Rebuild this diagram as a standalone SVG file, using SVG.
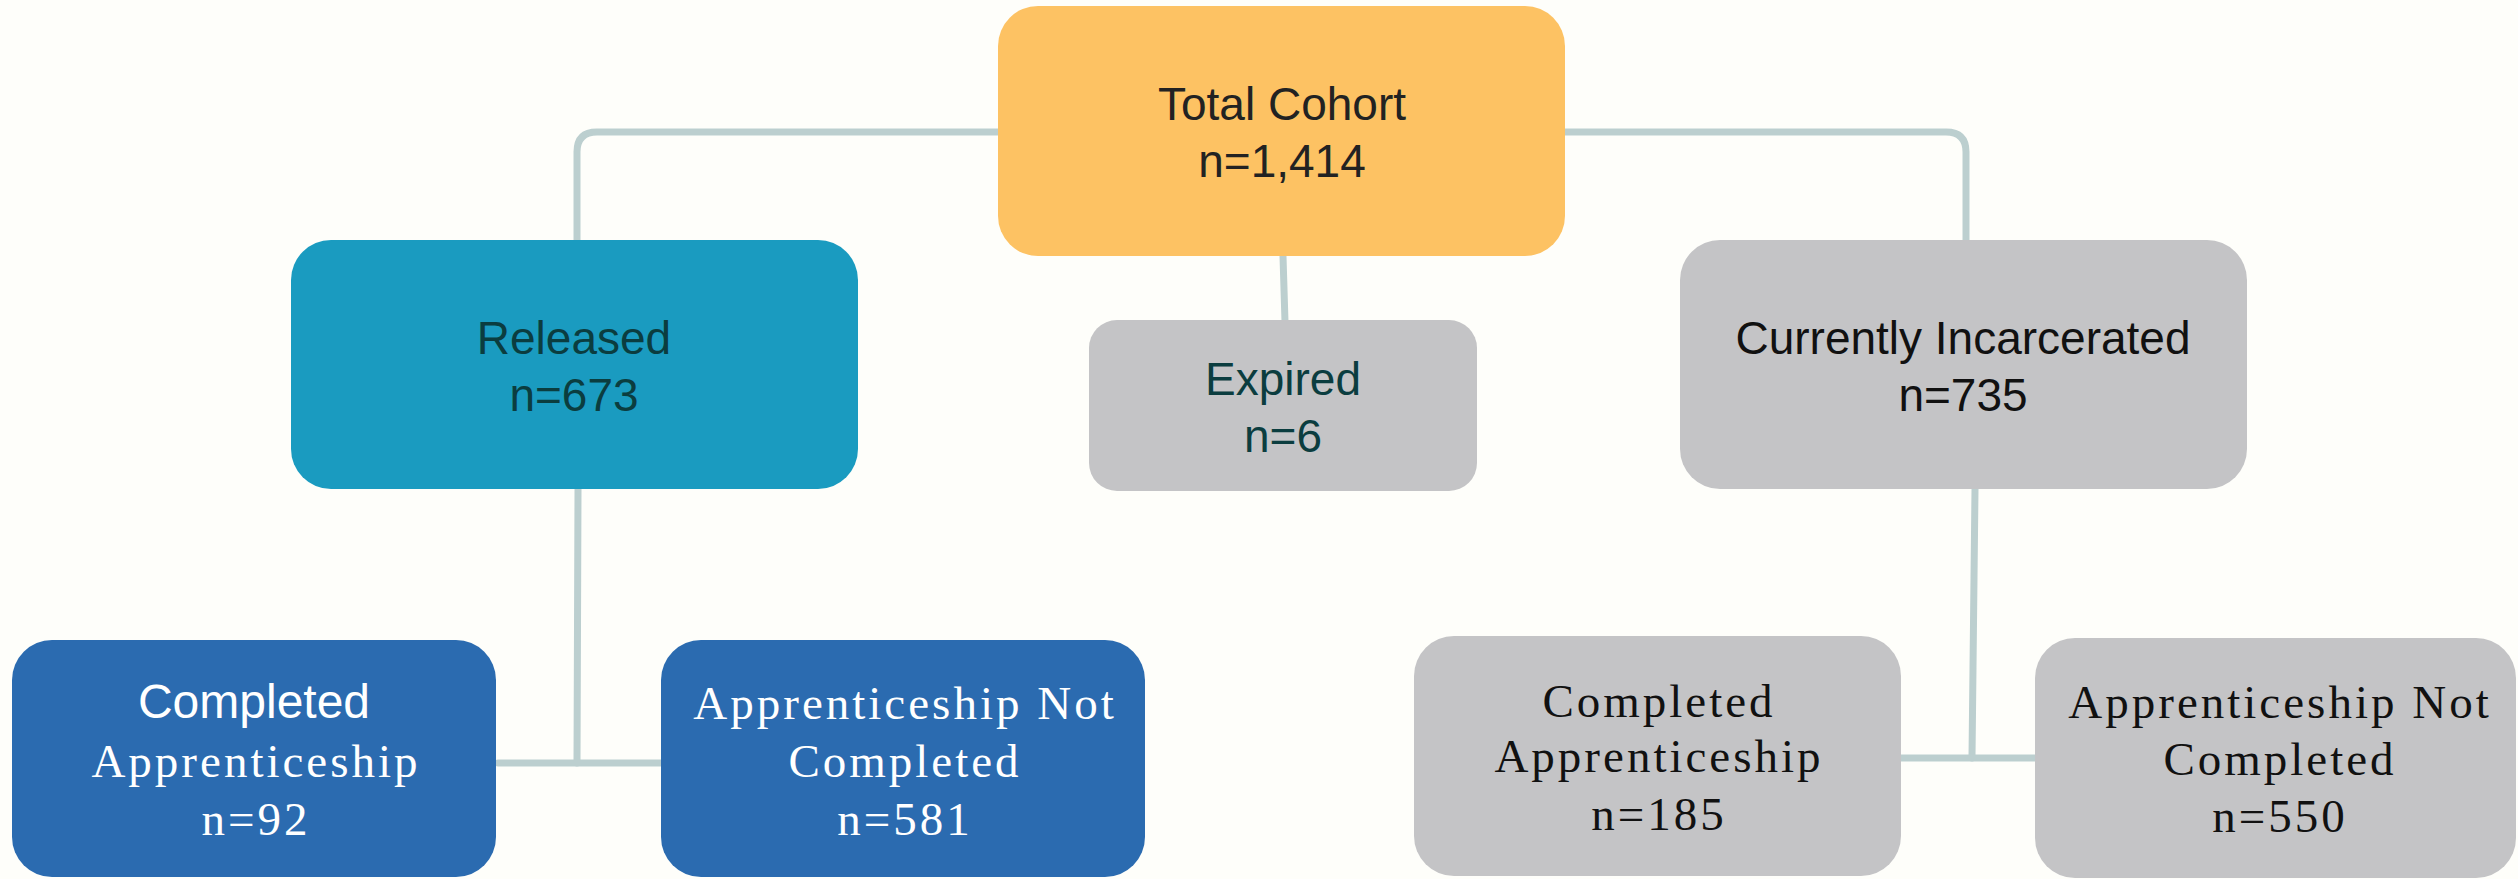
<svg xmlns="http://www.w3.org/2000/svg" width="2518" height="879" viewBox="0 0 2518 879">
  <style>
    .sans { font-family: "Liberation Sans", Arial, sans-serif; font-size: 46px; text-anchor: middle; }
    .serif { font-family: "Liberation Serif", "Times New Roman", serif; font-size: 47px; letter-spacing: 3px; text-anchor: middle; }
    .link { fill: none; stroke: #bccfcf; stroke-width: 7; stroke-linecap: round; stroke-linejoin: round; }
    .orange { fill: #fdc263; }
    .teal { fill: #1a9bc0; }
    .blue { fill: #2b6bb0; }
    .grey { fill: #c4c4c6; }
    .ink-dark { fill: #222222; }
    .ink-teal { fill: #0b3d3f; }
    .ink-black { fill: #111111; }
    .ink-white { fill: #ffffff; }
  </style>

  <rect x="0" y="0" width="2518" height="879" fill="#fefefa"/>

  <!-- connectors -->
  <g id="connectors">
    <path class="link" d="M 1000 132 L 597 132 Q 577 132 577 152 L 577 245"/>
    <path class="link" d="M 1563 132 L 1946 132 Q 1966 132 1966 152 L 1966 245"/>
    <path class="link" d="M 1283 256 L 1285 322"/>
    <path class="link" d="M 578 489 L 577 763"/>
    <path class="link" d="M 498 763 L 664 763"/>
    <path class="link" d="M 1975 489 L 1972 758"/>
    <path class="link" d="M 1899 758 L 2040 758"/>
  </g>

  <g id="total-cohort">
    <rect class="orange" x="998" y="6" width="567" height="250" rx="40" ry="40"/>
    <text class="sans ink-dark" x="1282" y="120">Total Cohort</text>
    <text class="sans ink-dark" x="1282" y="177">n=1,414</text>
  </g>

  <g id="released">
    <rect class="teal" x="291" y="240" width="567" height="249" rx="40" ry="40"/>
    <text class="sans ink-teal" x="574" y="354">Released</text>
    <text class="sans ink-teal" x="574" y="411">n=673</text>
  </g>

  <g id="expired">
    <rect class="grey" x="1089" y="320" width="388" height="171" rx="28" ry="28"/>
    <text class="sans ink-teal" x="1283" y="395">Expired</text>
    <text class="sans ink-teal" x="1283" y="452">n=6</text>
  </g>

  <g id="currently-incarcerated">
    <rect class="grey" x="1680" y="240" width="567" height="249" rx="40" ry="40"/>
    <text class="sans ink-black" x="1963" y="354">Currently Incarcerated</text>
    <text class="sans ink-black" x="1963" y="411">n=735</text>
  </g>

  <g id="released-completed">
    <rect class="blue" x="12" y="640" width="484" height="237" rx="40" ry="40"/>
    <text class="sans ink-white" x="254" y="718" style="font-size:48px">Completed</text>
    <text class="serif ink-white" x="256" y="777">Apprenticeship</text>
    <text class="serif ink-white" x="256" y="835">n=92</text>
  </g>

  <g id="released-not-completed">
    <rect class="blue" x="661" y="640" width="484" height="237" rx="40" ry="40"/>
    <text class="serif ink-white" x="905" y="719">Apprenticeship Not</text>
    <text class="serif ink-white" x="905" y="777">Completed</text>
    <text class="serif ink-white" x="905" y="835">n=581</text>
  </g>

  <g id="incarcerated-completed">
    <rect class="grey" x="1414" y="636" width="487" height="240" rx="40" ry="40"/>
    <text class="serif ink-black" x="1659" y="717">Completed</text>
    <text class="serif ink-black" x="1659" y="772">Apprenticeship</text>
    <text class="serif ink-black" x="1659" y="830">n=185</text>
  </g>

  <g id="incarcerated-not-completed">
    <rect class="grey" x="2035" y="638" width="481" height="240" rx="40" ry="40"/>
    <text class="serif ink-black" x="2280" y="718">Apprenticeship Not</text>
    <text class="serif ink-black" x="2280" y="775">Completed</text>
    <text class="serif ink-black" x="2280" y="832">n=550</text>
  </g>
</svg>
